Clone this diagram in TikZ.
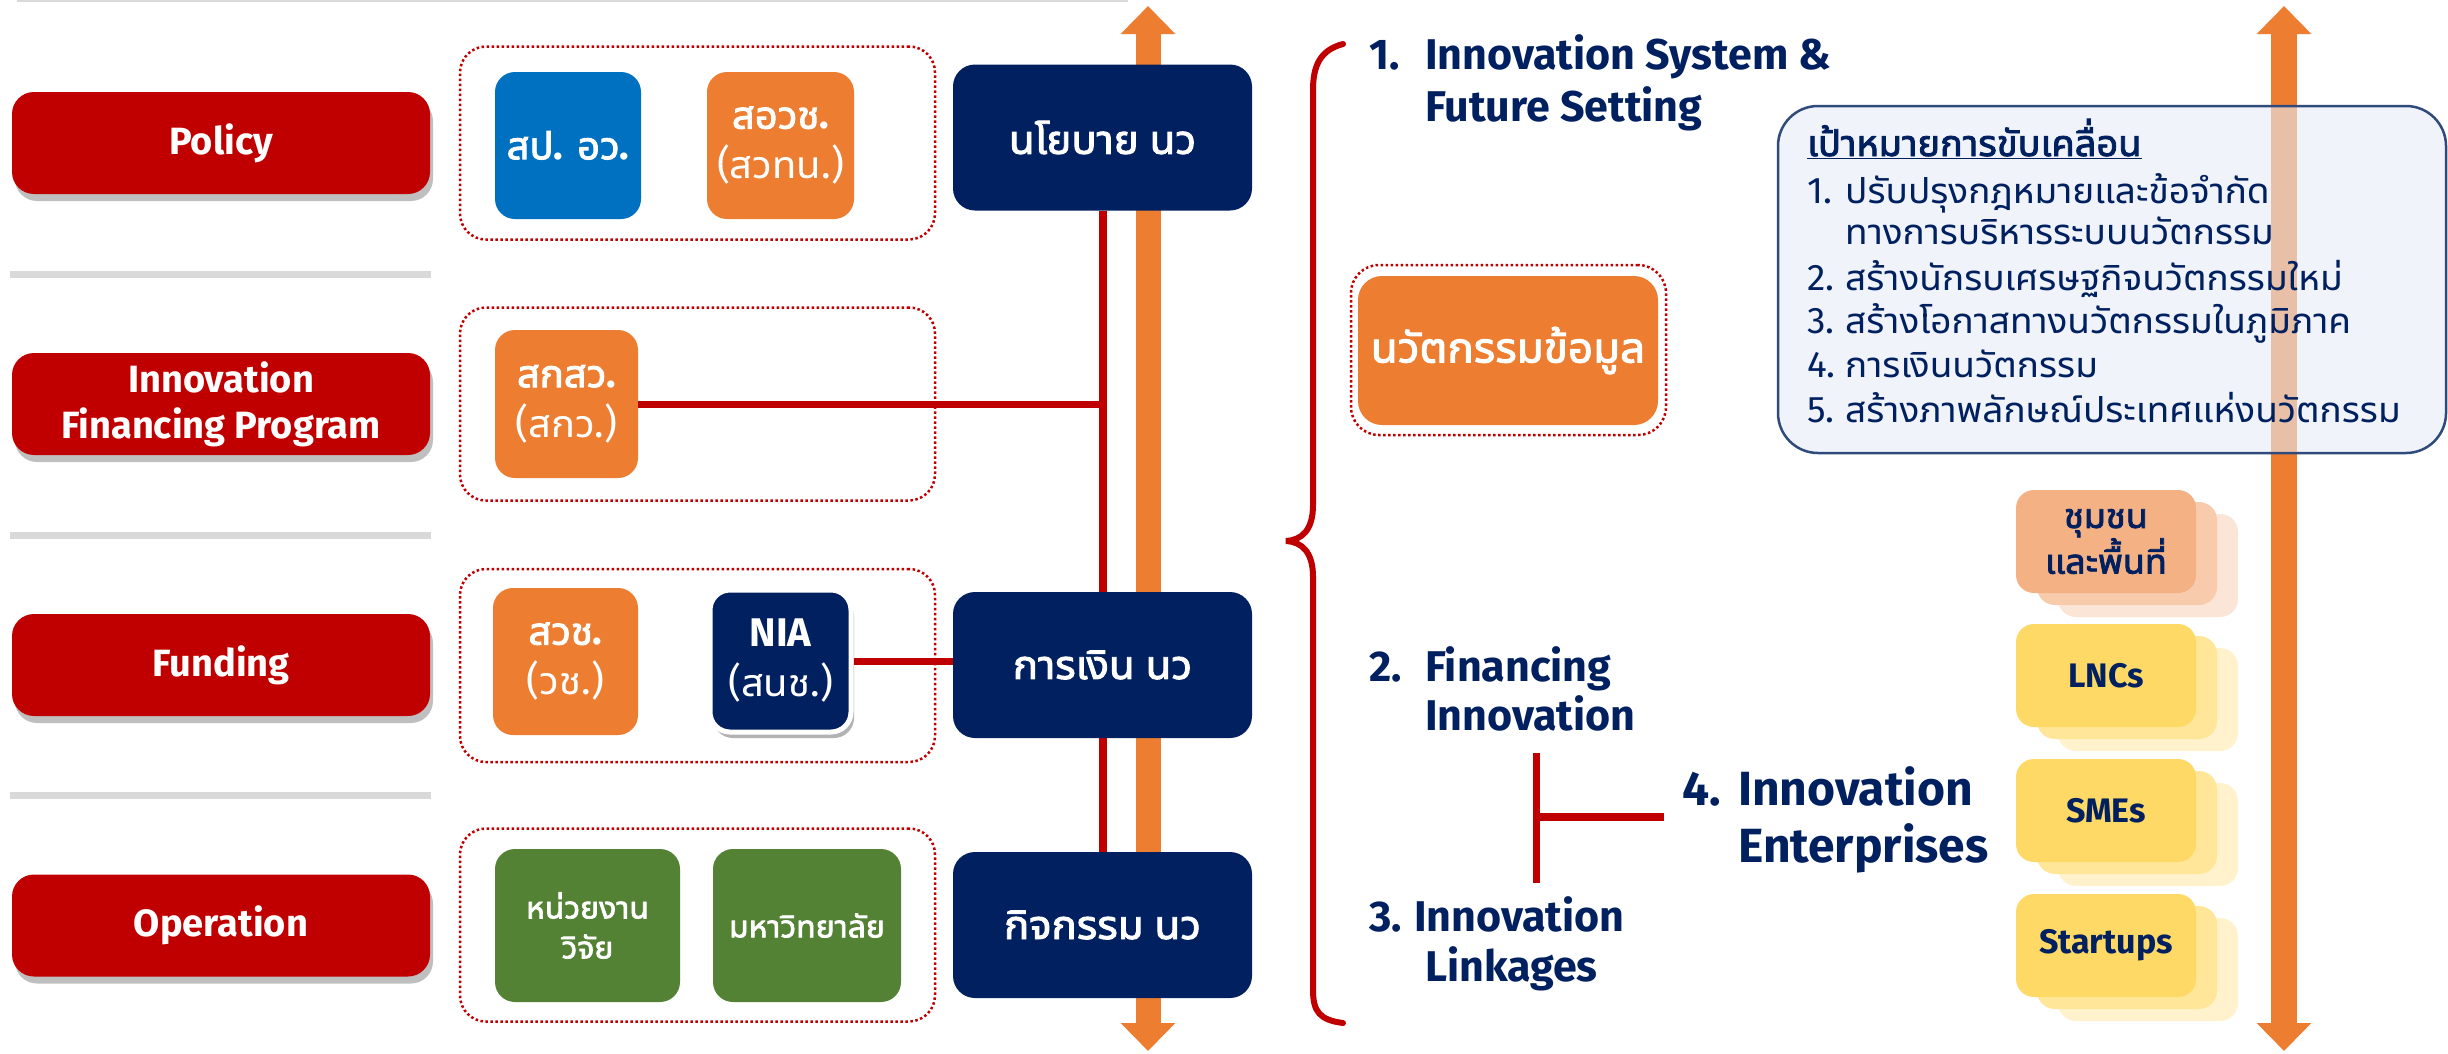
\documentclass[tikz,border=0pt]{standalone}
\usepackage{fontspec}
\setmainfont{Fira Sans}
\IfFontExistsTF{Noto Sans Thai UI}
  {\newfontfamily\thf{Noto Sans Thai UI}[Script=Thai, AutoFakeBold=2.2]}
  {\newfontfamily\thf{Loma}[Script=Thai, AutoFakeBold=2.2]}
\newcommand\LP[1]{{\rmfamily #1}}
\usetikzlibrary{arrows.meta,shadows}
\pgfdeclarelayer{back}
\pgfdeclarelayer{mid}
\pgfsetlayers{back,mid,main}
\definecolor{cred}{HTML}{C00000}
\definecolor{cblue}{HTML}{0070C0}
\definecolor{corange}{HTML}{ED7D31}
\definecolor{cnavy}{HTML}{002060}
\definecolor{cgreen}{HTML}{548235}
\definecolor{cgray}{HTML}{D9D9D9}
\definecolor{cgoal}{HTML}{E6EDF7}
\definecolor{cgoalb}{HTML}{2F4B7C}
\definecolor{cpk1}{HTML}{F4B183}
\definecolor{cpk2}{HTML}{F8CBAD}
\definecolor{cpk3}{HTML}{FBE5D6}
\definecolor{cye1}{HTML}{FFD966}
\definecolor{cye2}{HTML}{FFE699}
\definecolor{cye3}{HTML}{FFF2CC}
\tikzset{
 lab/.style={fill=cred, rounded corners=22pt, minimum width=418pt, minimum height=102pt, inner sep=0pt, text=white, align=center, font=\bfseries\fontsize{38}{46}\selectfont, drop shadow={shadow xshift=3pt, shadow yshift=-7pt, fill=black, opacity=0.25}},
 grp/.style={draw=cred, line width=2.5pt, dash pattern=on 2.5pt off 2.5pt, rounded corners=26pt, minimum width=475pt, minimum height=193pt, inner sep=0pt},
 ibox/.style={rounded corners=20pt, inner sep=0pt, text=white, align=center, font=\thf\bfseries\fontsize{40}{50}\selectfont},
 nbox/.style={fill=cnavy, rounded corners=22pt, minimum width=299pt, minimum height=146pt, inner sep=0pt, text=white, font=\thf\bfseries\fontsize{42}{50}\selectfont},
 sepline/.style={draw=cgray, line width=7pt},
 rline/.style={draw=cred, line width=8pt},
 oarrow/.style={draw=corange, line width=25pt, {Triangle[width=53pt,length=28pt]}-{Triangle[width=53pt,length=28pt]}},
 hd/.style={text=cnavy, font=\bfseries\fontsize{43}{52}\selectfont, anchor=base west, inner sep=0pt},
 hdb/.style={text=cnavy, font=\bfseries\fontsize{48}{56}\selectfont, anchor=base west, inner sep=0pt},
 gt/.style={text=cnavy, font=\thf\fontsize{37}{44}\selectfont, anchor=base west, inner sep=0pt},
 stk/.style={rounded corners=18pt, minimum width=180pt, minimum height=103pt, inner sep=0pt},
 stkt/.style={text=cnavy, align=center, font=\bfseries\fontsize{34}{44}\selectfont},
}
\begin{document}
\begin{tikzpicture}[x=1pt,y=-1pt]
\begin{pgfonlayer}{back}
\fill[white] (0,0) rectangle (2448,1053);
\end{pgfonlayer}
\useasboundingbox (0,0) rectangle (2448,1053);

% separators
\draw[sepline, line width=3pt] (17,0.5) -- (1128,0.5);
\draw[sepline] (10,274) -- (431,274);
\draw[sepline] (10,535) -- (431,535);
\draw[sepline] (10,795) -- (431,795);

% left labels
\node[lab] (pol) at (221,143) {Policy};
\node[lab] (ifp) at (221,404) {Innovation\\Financing Program};
\node[lab] (fnd) at (221,665) {Funding};
\node[lab] (opr) at (221,925.5) {Operation};

% groups
\node[grp] (g1) at (697.5,143) {};
\node[grp] (g2) at (697.5,404) {};
\node[grp] (g3) at (697.5,665.5) {};
\node[grp] (g4) at (697.5,925) {};

% inner boxes
\node[ibox, fill=cblue, minimum width=146pt, minimum height=147pt] (spo) at (568,145.5) {สป\LP{.} อว\LP{.}};
\node[ibox, fill=corange, minimum width=147pt, minimum height=147pt] (sow) at (780.5,145.5) {สอวช\LP{.}\\{\mdseries\LP{(}สวทน\LP{.)}}};
\node[ibox, fill=corange, minimum width=143pt, minimum height=148pt] (skw) at (566.5,404) {สกสว\LP{.}\\{\mdseries\LP{(}สกว\LP{.)}}};
\node[ibox, fill=corange, minimum width=145pt, minimum height=147pt] (swc) at (565.5,661.5) {สวช\LP{.}\\{\mdseries\LP{(}วช\LP{.)}}};
\node[ibox, fill=cnavy, draw=white, line width=5pt, minimum width=141pt, minimum height=142pt, drop shadow={shadow xshift=3pt, shadow yshift=-6pt, fill=black, opacity=0.3}] (nia) at (780.5,661) {\LP{NIA}\\{\mdseries\LP{(}สนช\LP{.)}}};
\node[ibox, fill=cgreen, minimum width=185pt, minimum height=153pt, font=\thf\bfseries\fontsize{32}{40}\selectfont] (rsu) at (587.5,925.5) {หน่วยงาน\\วิจัย};
\node[ibox, fill=cgreen, minimum width=188pt, minimum height=153pt, font=\thf\bfseries\fontsize{32}{40}\selectfont] (uni) at (807,925.5) {มหาวิทยาลัย};

% navy boxes
\node[nbox] (nay) at (1102.5,137.5) {นโยบาย นว};
\node[nbox] (fin) at (1102.5,665) {การเงิน นว};
\node[nbox] (act) at (1102.5,925) {กิจกรรม นว};

% arrows and red spine (behind)
\coordinate (la1) at (1148,1051);
\coordinate (la2) at (1148,6);
\coordinate (ra1) at (2284,1051);
\coordinate (ra2) at (2284,6);
\begin{pgfonlayer}{back}
\draw[oarrow] (la1) -- (la2);
\draw[oarrow, line width=26pt] (ra1) -- (ra2);
\draw[rline] (nay.south) -- (act.north);
\end{pgfonlayer}

% connectors
\draw[rline, line width=7pt] (skw.east) -- (skw.east -| nay.south);
\draw[rline, line width=7pt] (nia.east) -- (nia.east -| fin.west);

% brace
\draw[cred, line width=6pt, line cap=round] (1343,44) .. controls (1320,50) and (1313,66) .. (1313,90) -- (1313,505) .. controls (1313,530) and (1302,540) .. (1286,541) .. controls (1302,542) and (1313,552) .. (1313,577) -- (1313,990) .. controls (1313,1012) and (1320,1020) .. (1343,1023);

% headings
\node[hd] (h1n) at (1369,69) {1.};
\node[hd] (h1a) at (1425,69) {Innovation System \&};
\node[hd] (h1b) at (1425,121) {Future Setting};
\node[hd] (h2n) at (1369,681) {2.};
\node[hd] (h2a) at (1425,681) {Financing};
\node[hd] (h2b) at (1425,730) {Innovation};
\node[hd] (h3n) at (1369,931) {3.};
\node[hd] (h3a) at (1414,931) {Innovation};
\node[hd] (h3b) at (1425,981) {Linkages};
\node[hdb] (h4n) at (1682,805) {4.};
\node[hdb] (h4a) at (1738,805) {Innovation};
\node[hdb] (h4b) at (1738,862) {Enterprises};

% T connector
\coordinate (tt) at (1536,753);
\coordinate (tb) at (1536,883);
\coordinate (tm) at (1536,817);
\draw[rline, line width=7pt] (tt) -- (tb);
\draw[rline] (tm) -- (tm -| h4n.west) [shorten >=18pt];

% info box
\node[draw=cred, line width=2.5pt, dash pattern=on 2.5pt off 2.5pt, rounded corners=28pt, minimum width=315pt, minimum height=170pt, inner sep=0pt] (infog) at (1508.5,350) {};
\node[ibox, fill=corange, rounded corners=24pt, minimum width=300pt, minimum height=149pt, font=\thf\bfseries\fontsize{44}{50}\selectfont] (info) at (1508,350.5) {นวัตกรรมข้อมูล};

% goal box
\node[fill=cgoal, fill opacity=0.6, draw=cgoalb, line width=2.5pt, rounded corners=40pt, minimum width=668pt, minimum height=347pt, inner sep=0pt] (goal) at (2112,279.5) {};
\node[gt, font=\thf\bfseries\fontsize{38}{44}\selectfont] (gtt) at (1807,156) {\underline{เป้าหมายการขับเคลื่อน}};
\node[gt] (g1n) at (1807,203) {\LP{1.}};
\node[gt] (g1a) at (1845,203) {ปรับปรุงกฎหมายและข้อจำกัด};
\node[gt] (g1b) at (1845,244) {ทางการบริหารระบบนวัตกรรม};
\node[gt] (g2n) at (1807,290) {\LP{2.}};
\node[gt] (g2a) at (1845,290) {สร้างนักรบเศรษฐกิจนวัตกรรมใหม่};
\node[gt] (g3n) at (1807,333) {\LP{3.}};
\node[gt] (g3a) at (1845,333) {สร้างโอกาสทางนวัตกรรมในภูมิภาค};
\node[gt] (g4n) at (1807,377) {\LP{4.}};
\node[gt] (g4a) at (1845,377) {การเงินนวัตกรรม};
\node[gt] (g5n) at (1807,422) {\LP{5.}};
\node[gt] (g5a) at (1845,422) {สร้างภาพลักษณ์ประเทศแห่งนวัตกรรม};

% stacked boxes
\node[stk, fill=cpk3] (c1c) at (2148,565.5) {};
\node[stk, fill=cpk2] (c1b) at (2127,553.5) {};
\node[stk, stkt, fill=cpk1, font=\thf\bfseries\fontsize{36}{44}\selectfont] (c1) at (2106,541.5) {ชุมชน\\และพื้นที่};
\node[stk, fill=cye3] (c2c) at (2148,699.5) {};
\node[stk, fill=cye2] (c2b) at (2127,687.5) {};
\node[stk, stkt, fill=cye1] (c2) at (2106,675.5) {LNCs};
\node[stk, fill=cye3] (c3c) at (2148,834.5) {};
\node[stk, fill=cye2] (c3b) at (2127,822.5) {};
\node[stk, stkt, fill=cye1] (c3) at (2106,810.5) {SMEs};
\node[stk, fill=cye3] (c4c) at (2148,969.5) {};
\node[stk, fill=cye2] (c4b) at (2127,957.5) {};
\node[stk, stkt, fill=cye1] (c4) at (2106,945.5) {Startups};
\end{tikzpicture}
\end{document}
